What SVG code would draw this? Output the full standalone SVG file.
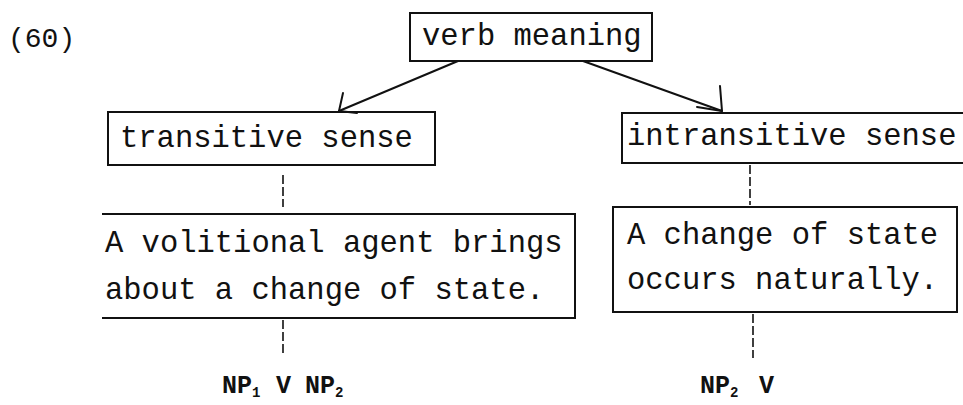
<svg xmlns="http://www.w3.org/2000/svg" width="963" height="405" viewBox="0 0 963 405">
<style>
  .box { fill: none; stroke: #111; stroke-width: 2; }
  .t { font-family: "Liberation Mono", "DejaVu Sans Mono", monospace; font-size: 30.5px; fill: #111; }
  .np { font-family: "Liberation Mono", "DejaVu Sans Mono", monospace; font-size: 25px; font-weight: bold; fill: #111; }
  .sub { font-size: 14px; }
  .lbl { font-family: "Liberation Mono", "DejaVu Sans Mono", monospace; font-size: 28px; fill: #111; }
  .edge { fill: none; stroke: #111; stroke-width: 2; stroke-linecap: round; stroke-linejoin: round; }
  .dash { fill: none; stroke: #111; stroke-width: 1.6; stroke-dasharray: 9 3; }
</style>
<rect width="963" height="405" fill="#fff"/>
<text class="lbl" x="8" y="47">(60)</text>

<g id="connectors">
  <polyline class="edge" points="458,61 339,111"/>
  <polyline class="edge" points="343,93 339,111 357,113"/>
  <polyline class="edge" points="583,61 722,111"/>
  <polyline class="edge" points="720,86 722,111 697,107"/>
  <line class="dash" x1="283" y1="175" x2="283" y2="207"/>
  <line class="dash" x1="750" y1="165" x2="750" y2="205"/>
  <line class="dash" x1="283" y1="320" x2="283" y2="356"/>
  <line class="dash" x1="753" y1="314" x2="753" y2="358"/>
</g>

<g id="verb-meaning">
  <rect class="box" x="410" y="13" width="242" height="48"/>
  <text class="t" x="422" y="45">verb meaning</text>
</g>

<g id="transitive-sense">
  <rect class="box" x="108" y="112" width="327" height="53"/>
  <text class="t" x="120" y="147">transitive sense</text>
</g>

<g id="intransitive-sense">
  <path class="box" d="M965,113 H622 V163 H965"/>
  <text class="t" x="627" y="145">intransitive sense</text>
</g>

<g id="transitive-meaning">
  <path class="box" d="M102,214 H575 V318 H102"/>
  <text class="t" x="105" y="252">A volitional agent brings</text>
  <text class="t" x="105" y="299">about a change of state.</text>
</g>

<g id="intransitive-meaning">
  <rect class="box" x="613" y="207" width="344" height="105"/>
  <text class="t" x="627" y="244">A change of state</text>
  <text class="t" x="627" y="289">occurs naturally.</text>
</g>

<g id="transitive-frame">
  <text class="np" x="222" y="393">NP<tspan class="sub" dy="4">1</tspan><tspan x="276" dy="-4">V</tspan><tspan x="305">NP</tspan><tspan class="sub" dy="4">2</tspan></text>
</g>

<g id="intransitive-frame">
  <text class="np" x="700" y="393">NP<tspan class="sub" dy="4">2</tspan><tspan x="759" dy="-4">V</tspan></text>
</g>
</svg>
